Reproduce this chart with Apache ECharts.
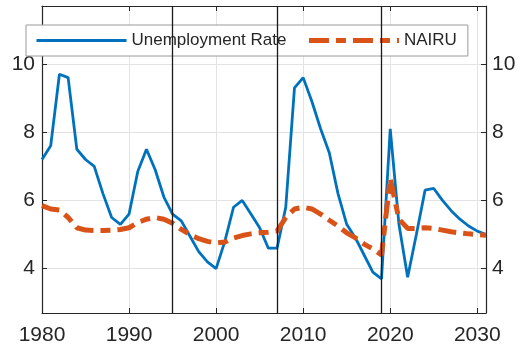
<!DOCTYPE html>
<html>
<head>
<meta charset="utf-8">
<script src="https://cdn.jsdelivr.net/npm/echarts@6/dist/echarts.min.js"></script>
<style>
  html, body { margin: 0; padding: 0; background: #fff; }
  #chart { width: 523px; height: 349px; }
</style>
</head>
<body>
<div id="chart"></div>
<script>
// years 1980..2031
var years = [];
for (var y = 1980; y <= 2031; y++) years.push(y);

var unemploymentRate = [
  7.2, 7.6, 9.7, 9.6, 7.5, 7.2, 7.0, 6.2, 5.5, 5.3,
  5.6, 6.85, 7.5, 6.9, 6.1, 5.6, 5.4, 4.95, 4.5, 4.2,
  4.0, 4.8, 5.8, 6.0, 5.6, 5.2, 4.6, 4.6, 5.8, 9.3,
  9.6, 8.9, 8.1, 7.4, 6.2, 5.3, 4.9, 4.4, 3.9, 3.7,
  8.1, 5.3, 3.75, 5.0, 6.3, 6.35, 6.0, 5.7, 5.45, 5.25,
  5.1, 5.0
];

var nairu = [
  5.85, 5.75, 5.72, 5.5, 5.2, 5.13, 5.12, 5.12, 5.13, 5.15,
  5.2, 5.35, 5.45, 5.5, 5.45, 5.33, 5.15, 5.0, 4.88, 4.8,
  4.75, 4.78, 4.9, 4.97, 5.02, 5.05, 5.07, 5.1, 5.5, 5.75,
  5.8, 5.75, 5.6, 5.42, 5.25, 5.05, 4.9, 4.72, 4.58, 4.4,
  6.65, 5.45, 5.18, 5.18, 5.2, 5.18, 5.13, 5.08, 5.05, 5.02,
  5.0, 4.98
];

// vertical reference lines
var markYears = [1995, 2007, 2019];

var axisColor = '#262626';
var font = 'Liberation Sans, Arial, Helvetica, sans-serif';

var pairs = function (vals) {
  return years.map(function (yr, i) { return [yr, vals[i]]; });
};

var xLabel = {
  fontSize: 21, color: axisColor, fontFamily: font, margin: 12,
  formatter: function (v) { return v % 10 === 0 ? String(v) : ''; }
};
var yLabel = function (m) {
  return {
    fontSize: 21, color: axisColor, fontFamily: font, margin: m,
    formatter: function (v) { return (Math.abs(v % 2) < 1e-9 && v >= 4 && v <= 10) ? String(v) : ''; }
  };
};
var gridLine = { show: true, lineStyle: { color: '#e3e3e3', width: 1 } };
var line = { show: true, onZero: false, lineStyle: { color: axisColor, width: 1.2 } };
var tick = { show: true, inside: true, length: 5, lineStyle: { color: axisColor, width: 1 } };

var option = {
  animation: false,
  backgroundColor: '#fff',
  grid: { left: 42, right: 37, top: 6, bottom: 36, containLabel: false },
  legend: {
    left: 26, top: 25,
    itemWidth: 90, itemHeight: 18, itemGap: 20,
    padding: [7, 11, 7, 9],
    backgroundColor: '#fff',
    borderColor: '#9a9a9a', borderWidth: 1,
    itemStyle: { opacity: 0 },
    textStyle: { fontSize: 17, color: axisColor, fontFamily: font },
    data: [
      { name: 'Unemployment Rate', lineStyle: { width: 3 } },
      { name: 'NAIRU', lineStyle: { width: 5, type: [20, 7, 10, 7] } }
    ]
  },
  xAxis: [
    { type: 'value', position: 'bottom', min: 1980, max: 2031, interval: 10,
      axisLine: line, axisTick: tick, axisLabel: xLabel, splitLine: gridLine },
    { type: 'value', position: 'top', min: 1980, max: 2031, interval: 10,
      axisLine: line, axisTick: tick, axisLabel: { show: false }, splitLine: { show: false } }
  ],
  yAxis: [
    { type: 'value', position: 'left', min: 2.7, max: 11.7,
      axisLine: line, axisTick: tick, axisLabel: yLabel(7), splitLine: gridLine },
    { type: 'value', position: 'right', min: 2.7, max: 11.7,
      axisLine: line, axisTick: tick, axisLabel: yLabel(6), splitLine: { show: false } }
  ],
  series: [
    {
      name: 'Unemployment Rate', type: 'line',
      data: pairs(unemploymentRate),
      symbol: 'none', z: 3,
      lineStyle: { color: '#0072BD', width: 2.8 },
      itemStyle: { color: '#0072BD' },
      markLine: {
        silent: true, symbol: 'none', animation: false,
        label: { show: false },
        lineStyle: { color: '#1a1a1a', width: 1.3, type: 'solid' },
        data: markYears.map(function (yr) { return { xAxis: yr }; })
      }
    },
    {
      name: 'NAIRU', type: 'line',
      data: pairs(nairu),
      symbol: 'none', z: 4,
      lineStyle: { color: '#D95319', width: 5, type: [18, 7, 10, 7], cap: 'butt' },
      itemStyle: { color: '#D95319' }
    }
  ]
};

var myChart = echarts.init(document.getElementById('chart'));
myChart.setOption(option);
</script>
</body>
</html>
